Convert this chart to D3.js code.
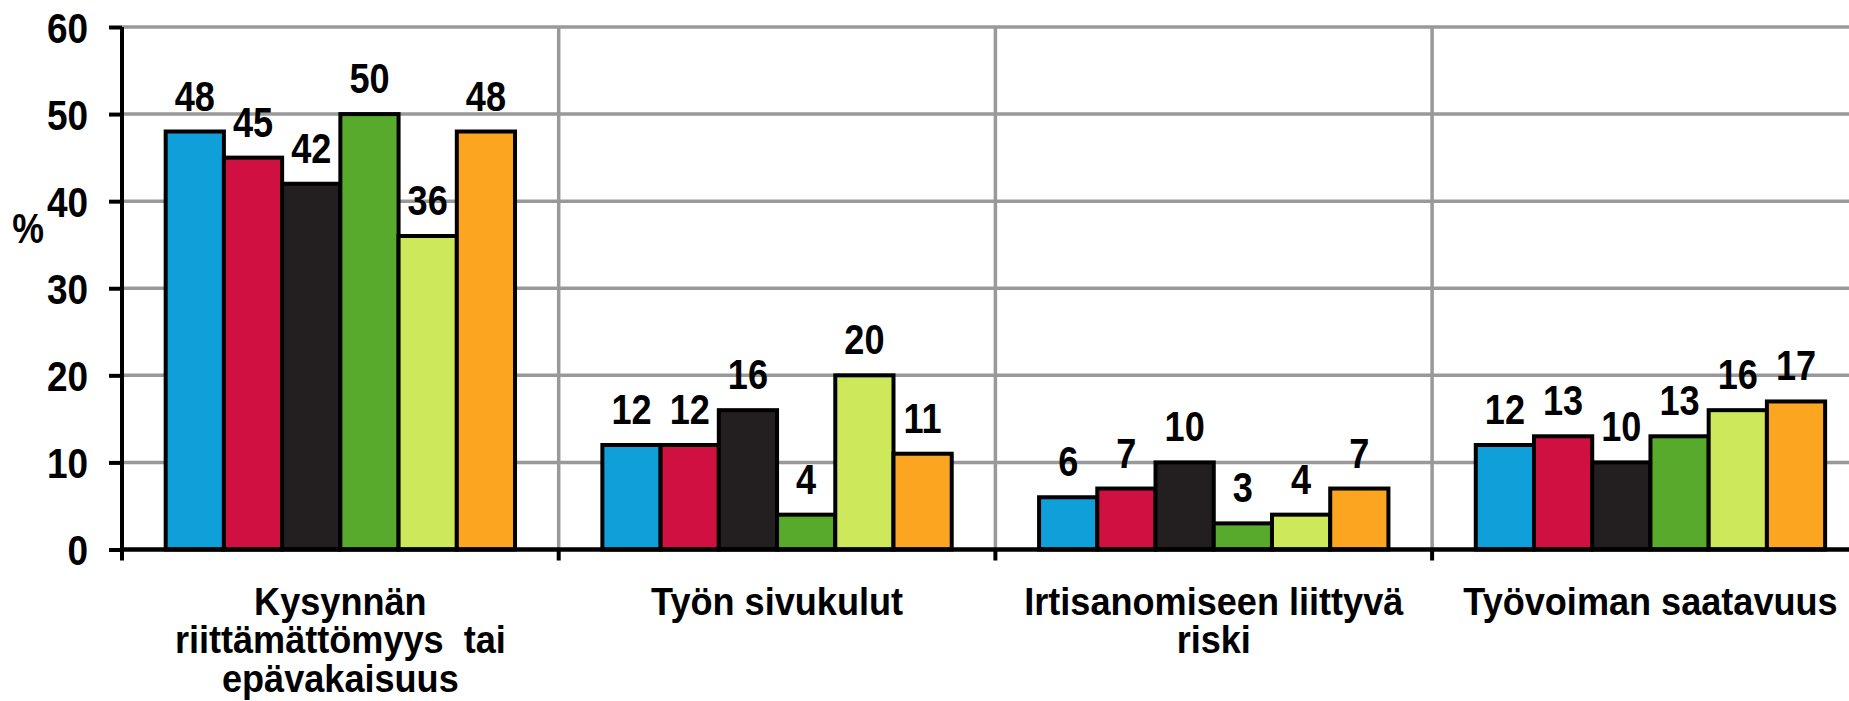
<!DOCTYPE html>
<html>
<head>
<meta charset="utf-8">
<script src="https://cdn.jsdelivr.net/npm/d3@7/dist/d3.min.js"></script>
<style>
  html, body { margin: 0; padding: 0; background: #fff; overflow: hidden; }
  svg { display: block; font-family: "Liberation Sans", Arial, sans-serif; font-weight: bold; }
</style>
</head>
<body>
<svg id="chart" width="1849" height="701"></svg>
<script>
const categories = [
  ["Kysynnän", "riittämättömyys  tai", "epävakaisuus"],
  ["Työn sivukulut"],
  ["Irtisanomiseen liittyvä", "riski"],
  ["Työvoiman saatavuus"]
];
const categoryKeys = ["c1", "c2", "c3", "c4"];
const seriesNames = ["s1", "s2", "s3", "s4", "s5", "s6"];
const seriesColors = ["#0fa0da", "#cf1041", "#231f20", "#57aa2c", "#cde85a", "#fca520"];
const s1 = [48, 12, 6, 12];
const s2 = [45, 12, 7, 13];
const s3 = [42, 16, 10, 10];
const s4 = [50, 4, 3, 13];
const s5 = [36, 20, 4, 16];
const s6 = [48, 11, 7, 17];
const seriesValues = [s1, s2, s3, s4, s5, s6];
const yTicks = [0, 10, 20, 30, 40, 50, 60];
const yLabel = "%";

const svg = d3.select("#chart");
const W = 1849;
const x0 = 122, catW = 436.7;
const x = d3.scaleBand().domain(categoryKeys).range([x0, x0 + catW * categoryKeys.length]).padding(0);
const xs = d3.scaleBand().domain(seriesNames).range([0, x.bandwidth()]).paddingInner(0).paddingOuter(0.75);
const y = d3.scaleLinear().domain([0, 60]).range([549.5, 27]);

// horizontal gridlines
svg.append("g").selectAll("line").data(yTicks.filter(d => d > 0)).join("line")
  .attr("x1", x0).attr("x2", W).attr("y1", d => y(d)).attr("y2", d => y(d))
  .attr("stroke", "#999").attr("stroke-width", 3.5);

// vertical gridlines at category boundaries
const bounds = categoryKeys.slice(1).map(k => x(k));
svg.append("g").selectAll("line").data(bounds).join("line")
  .attr("x1", d => d).attr("x2", d => d).attr("y1", y(60)).attr("y2", y(0))
  .attr("stroke", "#999").attr("stroke-width", 3.5);

// bars
const barData = [];
categoryKeys.forEach((c, ci) => seriesNames.forEach((s, si) => barData.push({c, s, si, v: seriesValues[si][ci]})));
svg.append("g").selectAll("rect").data(barData).join("rect")
  .attr("x", d => x(d.c) + xs(d.s))
  .attr("y", d => y(d.v))
  .attr("width", xs.bandwidth())
  .attr("height", d => y(0) - y(d.v))
  .attr("fill", d => seriesColors[d.si])
  .attr("stroke", "#000").attr("stroke-width", 4);

// value labels (condensed bold)
svg.append("g").selectAll("text").data(barData).join("text")
  .attr("transform", d => `translate(${x(d.c) + xs(d.s) + xs.bandwidth() / 2},${y(d.v) - 21}) scale(0.86,1)`)
  .attr("text-anchor", "middle")
  .attr("font-size", 42)
  .text(d => d.v);

// y axis
const yAxis = d3.axisLeft(y).tickValues(yTicks).tickSize(13).tickPadding(20).tickFormat(d3.format("d"));
const gy = svg.append("g").attr("transform", `translate(${x0},0)`).call(yAxis);
gy.select(".domain").attr("stroke", "#000").attr("stroke-width", 4).attr("d", `M0,${y(60)}V${y(0)+2}`);
gy.selectAll(".tick line").attr("stroke", "#000").attr("stroke-width", 4);
gy.selectAll(".tick text")
  .attr("x", 0).attr("dy", "0.36em")
  .attr("transform", "translate(-34,0) scale(0.88,1)")
  .attr("font-size", 42).attr("font-family", "Liberation Sans, Arial, sans-serif").attr("font-weight", "bold").attr("fill", "#000");

// x axis line and boundary ticks
svg.append("line").attr("x1", x0).attr("x2", W).attr("y1", y(0)).attr("y2", y(0))
  .attr("stroke", "#000").attr("stroke-width", 4.5);
svg.append("g").selectAll("line").data([x0, ...bounds]).join("line")
  .attr("x1", d => d).attr("x2", d => d).attr("y1", y(0)).attr("y2", y(0) + 11)
  .attr("stroke", "#000").attr("stroke-width", 4);

// category labels
const cl = svg.append("g").selectAll("text").data(categoryKeys).join("text")
  .attr("transform", k => `translate(${x(k) + x.bandwidth() / 2},615) scale(0.95,1)`)
  .attr("text-anchor", "middle")
  .attr("font-size", 38)
  .attr("xml:space", "preserve")
  .style("white-space", "pre");
cl.each(function(k, i) {
  const t = d3.select(this);
  categories[i].forEach((line, li) => {
    t.append("tspan").attr("x", 0).attr("y", li * 38.5).text(line);
  });
});

// y label
svg.append("text").attr("transform", "translate(28,243) scale(0.85,1)")
  .attr("text-anchor", "middle").attr("font-size", 42).text(yLabel);
</script>
</body>
</html>
